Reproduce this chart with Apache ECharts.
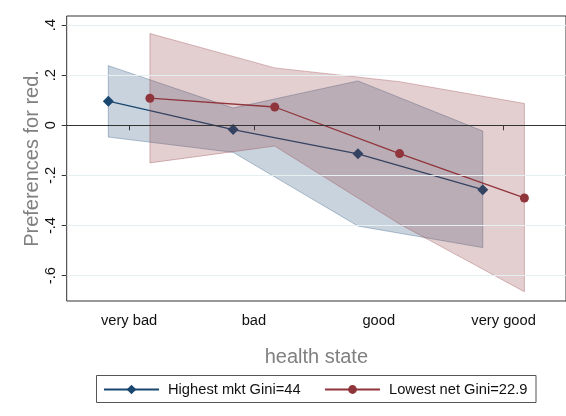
<!DOCTYPE html>
<html>
<head>
<meta charset="utf-8">
<script src="https://cdn.jsdelivr.net/npm/echarts@6/dist/echarts.min.js"></script>
<style>
html,body{margin:0;padding:0;background:#fff;}
#chart{width:566px;height:416px;}
</style>
</head>
<body>
<div id="chart"></div>
<script>
const categories = ['very bad', 'bad', 'good', 'very good'];
const categoryPos = [1, 2, 3, 4];
const seriesOffset = 1 / 6;
const yTickValues = [-0.6, -0.4, -0.2, 0, 0.2, 0.4];
const yTickLabels = ['-.6', '-.4', '-.2', '0', '.2', '.4'];

const highestName = 'Highest mkt Gini=44';
const highestMean = [0.096, -0.017, -0.114, -0.257];
const highestUpper = [0.238, 0.069, 0.177, -0.023];
const highestLower = [-0.047, -0.108, -0.402, -0.488];

const lowestName = 'Lowest net Gini=22.9';
const lowestMean = [0.108, 0.073, -0.113, -0.290];
const lowestUpper = [0.366, 0.229, 0.174, 0.087];
const lowestLower = [-0.150, -0.083, -0.394, -0.664];

const NAVY = '#1a476f';
const MAROON = '#90353b';
const FONT = 'Liberation Sans, Arial, sans-serif';

function pts(offset, vals) {
  return categoryPos.map((p, i) => [p + offset, vals[i]]);
}
function bandSeries(offset, upper, lower, fill, stroke, z) {
  const poly = pts(offset, upper).concat(pts(offset, lower).reverse());
  return {
    type: 'custom',
    xAxisIndex: 0, yAxisIndex: 0,
    z: z,
    silent: true,
    data: [0],
    renderItem: function (params, api) {
      return {
        type: 'polygon',
        shape: { points: poly.map(p => api.coord(p)) },
        style: { fill: fill, stroke: stroke, lineWidth: 1 }
      };
    }
  };
}

const chart = echarts.init(document.getElementById('chart'), null, { renderer: 'canvas' });
const option = {
  animation: false,
  backgroundColor: '#fff',
  grid: { left: 66.7, top: 16, right: -1, bottom: 115, show: true, borderColor: '#333', borderWidth: 1, backgroundColor: 'transparent' },
  xAxis: {
    type: 'value', min: 0.5, max: 4.5,
    name: 'health state', nameLocation: 'middle', nameGap: 46, nameMoveOverlap: false,
    nameTextStyle: { color: '#808080', fontSize: 20, fontFamily: FONT },
    axisLine: { show: false },
    splitLine: { show: false },
    axisTick: { show: true, customValues: categoryPos, length: 5, lineStyle: { color: '#333' } },
    axisLabel: { customValues: categoryPos, margin: 12, color: '#111', fontSize: 14.7, fontFamily: FONT,
      formatter: v => categories[categoryPos.indexOf(Math.round(v))] || '' }
  },
  yAxis: {
    type: 'value', min: -0.701, max: 0.436,
    name: 'Preferences for red.', nameLocation: 'middle', nameGap: 24, nameMoveOverlap: false,
    nameTextStyle: { color: '#808080', fontSize: 20, fontFamily: FONT },
    axisLine: { show: false },
    splitLine: { show: false },
    axisTick: { show: true, customValues: yTickValues, length: 5, lineStyle: { color: '#333' } },
    axisLabel: { customValues: yTickValues, rotate: 90, margin: 8, color: '#111', fontSize: 14.7, fontFamily: FONT,
      formatter: v => { const i = yTickValues.findIndex(t => Math.abs(t - v) < 1e-6); return i >= 0 ? yTickLabels[i] : ''; } }
  },
  legend: [
    { data: [highestName], left: 103, top: 382, padding: 0, itemWidth: 55, itemHeight: 12,
      textStyle: { color: '#111', fontSize: 14.7, fontFamily: FONT, padding: [0, 0, 0, 4] } },
    { data: [lowestName], left: 324, top: 382, padding: 0, itemWidth: 55, itemHeight: 11,
      textStyle: { color: '#111', fontSize: 14.7, fontFamily: FONT, padding: [0, 0, 0, 4] } }
  ],
  graphic: [
    { type: 'rect', shape: { x: 96.5, y: 375.5, width: 439.5, height: 27 }, style: { fill: 'none', stroke: '#555', lineWidth: 1 }, z: 100 }
  ],
  series: [
    {
      type: 'line', data: [], z: 0, silent: true,
      markLine: {
        silent: true, symbol: 'none', animation: false,
        label: { show: false },
        data: yTickValues.filter(v => v !== 0).map(v => ({ yAxis: v, lineStyle: { color: '#e6eff1', width: 1, type: 'solid' } }))
      }
    },
    bandSeries(-seriesOffset, highestUpper, highestLower, 'rgba(26,71,111,0.24)', 'rgba(26,71,111,0.32)', 1),
    {
      name: highestName, type: 'line', z: 2,
      data: pts(-seriesOffset, highestMean),
      symbol: 'diamond', symbolSize: 11,
      lineStyle: { color: NAVY, width: 1.3 },
      itemStyle: { color: NAVY }
    },
    bandSeries(seriesOffset, lowestUpper, lowestLower, 'rgba(144,53,59,0.24)', 'rgba(144,53,59,0.32)', 3),
    {
      name: lowestName, type: 'line', z: 4,
      data: pts(seriesOffset, lowestMean),
      symbol: 'circle', symbolSize: 9,
      lineStyle: { color: MAROON, width: 1.3 },
      itemStyle: { color: MAROON },
      markLine: {
        silent: true, symbol: 'none', animation: false, label: { show: false },
        data: [{ yAxis: 0, lineStyle: { color: '#333', width: 1, type: 'solid' } }]
      }
    }
  ]
};
chart.setOption(option);
</script>
</body>
</html>
